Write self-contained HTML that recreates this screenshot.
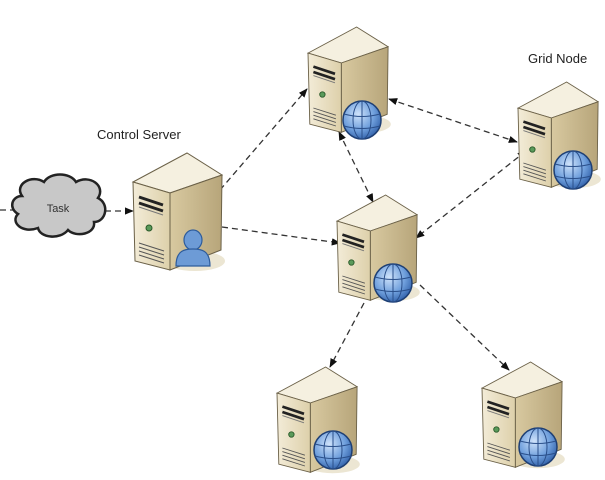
<!DOCTYPE html>
<html><head><style>html,body{margin:0;padding:0;background:#fff;}svg{display:block}</style></head>
<body>
<svg width="605" height="480" viewBox="0 0 605 480" xmlns="http://www.w3.org/2000/svg">
<defs>
<linearGradient id="fr" x1="0" x2="1"><stop offset="0" stop-color="#f3ecd8"/><stop offset="1" stop-color="#ddd0aa"/></linearGradient>
<linearGradient id="rt" x1="0" x2="1"><stop offset="0" stop-color="#d8c9a0"/><stop offset="1" stop-color="#b7a57a"/></linearGradient>
<radialGradient id="gl" cx="0.4" cy="0.35" r="0.7"><stop offset="0" stop-color="#cfe3fb"/><stop offset="0.6" stop-color="#6f9fdc"/><stop offset="1" stop-color="#2f5fa8"/></radialGradient>
<marker id="ah" viewBox="0 0 10 10" refX="9" refY="5" markerWidth="7" markerHeight="7" orient="auto-start-reverse"><path d="M0,1 L10,5 L0,9 z" fill="#111"/></marker>
<g id="srv">
<ellipse cx="62" cy="108" rx="30" ry="10" fill="#ece6d3"/>
<polygon points="0,29 54,0 89,22 37,40" fill="#f5f0e0" stroke="#6b6148" stroke-width="1"/>
<polygon points="37,40 89,22 88,97 37,117" fill="url(#rt)" stroke="#6b6148" stroke-width="1"/>
<polygon points="0,29 37,40 37,117 2,108" fill="url(#fr)" stroke="#6b6148" stroke-width="1"/>
<path d="M6,44 L30,52 M6,50 L30,58" stroke="#222" stroke-width="3"/>
<path d="M6,54 L30,62" stroke="#777" stroke-width="1"/>
<circle cx="16" cy="75" r="3" fill="#5a9a5a" stroke="#2a5a2a" stroke-width="1"/>
<path d="M6,90 L31,98 M6,94 L31,102 M6,98 L31,106 M6,102 L31,110" stroke="#555" stroke-width="1"/>
</g>
<g id="globe">
<circle cx="0" cy="0" r="19" fill="url(#gl)" stroke="#1e3f74" stroke-width="1.5"/>
<ellipse cx="0" cy="0" rx="9" ry="19" fill="none" stroke="#2a4f8a" stroke-width="1"/>
<path d="M-18,-6 Q0,-1 18,-6 M-18,6 Q0,11 18,6 M0,-19 L0,19" stroke="#2a4f8a" fill="none" stroke-width="1"/>
</g>
</defs>

<!-- connectors -->
<g stroke="#333" stroke-width="1.3" stroke-dasharray="6,4" fill="none">
<line x1="0" y1="210" x2="13" y2="210"/>
<line x1="105" y1="211" x2="133" y2="211" marker-end="url(#ah)"/>
<line x1="220" y1="190" x2="307" y2="89" marker-end="url(#ah)"/>
<line x1="222" y1="227" x2="340" y2="243" marker-end="url(#ah)"/>
<line x1="339" y1="132" x2="373" y2="202" marker-start="url(#ah)" marker-end="url(#ah)"/>
<line x1="389" y1="99" x2="517" y2="142" marker-start="url(#ah)" marker-end="url(#ah)"/>
<line x1="526" y1="151" x2="416" y2="238" marker-start="url(#ah)" marker-end="url(#ah)"/>
<line x1="364" y1="303" x2="330" y2="367" marker-end="url(#ah)"/>
<line x1="420" y1="285" x2="509" y2="370" marker-end="url(#ah)"/>
</g>

<!-- cloud -->
<path d="M22,196 C14,184 32,174 44,182 C50,172 70,172 76,182 C90,174 106,186 98,198 C110,204 106,222 94,222 C96,234 76,238 68,230 C60,240 40,238 38,228 C22,234 10,222 18,214 C8,208 12,196 22,196 Z" fill="#c8c8c8" stroke="#222" stroke-width="2.5"/>
<text x="58" y="212" font-family="Liberation Sans, sans-serif" font-size="11" fill="#333" text-anchor="middle">Task</text>

<!-- servers -->
<use href="#srv" transform="translate(133,153) scale(1,1)"/>
<g transform="translate(193,250)">
<ellipse cx="0" cy="-10" rx="9" ry="10" fill="#6d9bd6" stroke="#2e5c9b" stroke-width="1.2"/>
<path d="M-17,16 C-17,0 -8,-1 0,-1 C8,-1 17,0 17,16 Z" fill="#6d9bd6" stroke="#2e5c9b" stroke-width="1.2"/>
</g>

<use href="#srv" transform="translate(308,27) scale(0.9)"/>
<use href="#globe" transform="translate(362,120)"/>

<use href="#srv" transform="translate(518,82) scale(0.9)"/>
<use href="#globe" transform="translate(573,170)"/>

<use href="#srv" transform="translate(337,195) scale(0.9)"/>
<use href="#globe" transform="translate(393,283)"/>

<use href="#srv" transform="translate(277,367) scale(0.9)"/>
<use href="#globe" transform="translate(333,450)"/>

<use href="#srv" transform="translate(482,362) scale(0.9)"/>
<use href="#globe" transform="translate(538,447)"/>

<text x="97" y="139" font-family="Liberation Sans, sans-serif" font-size="13" fill="#222">Control Server</text>
<text x="528" y="63" font-family="Liberation Sans, sans-serif" font-size="13" fill="#222">Grid Node</text>
</svg>
</body></html>
